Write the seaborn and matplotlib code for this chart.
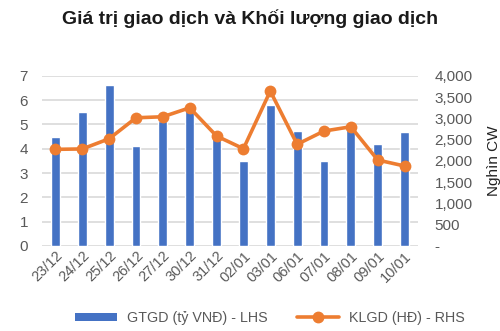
import matplotlib
matplotlib.use("Agg")
import matplotlib.pyplot as plt
import seaborn as sns
import numpy as np
from matplotlib.lines import Line2D
from matplotlib.patches import Patch
from matplotlib.ticker import FuncFormatter

dates = ["23/12", "24/12", "25/12", "26/12", "27/12", "30/12", "31/12",
         "02/01", "03/01", "06/01", "07/01", "08/01", "09/01", "10/01"]
gtgd = [4.50, 5.53, 6.63, 4.13, 5.14, 5.65, 4.43, 3.51, 5.80, 4.74, 3.50, 4.75, 4.20, 4.70]
klgd = [2271, 2280, 2520, 3013, 3037, 3248, 2584, 2286, 3641, 2389, 2701, 2802, 2020, 1879]

title = "Giá trị giao dịch và Khối lượng giao dịch"
bar_label = "GTGD (tỷ VNĐ) - LHS"
line_label = "KLGD (HĐ) - RHS"
right_ylabel = "Nghìn CW"

BLUE = "#4472C4"
ORANGE = "#ED7D31"
GRAY = "#595959"

sns.set_style("white")
plt.rcParams["font.family"] = ["Liberation Sans", "DejaVu Sans"]

fig = plt.figure(figsize=(5.0, 3.31), dpi=100)
ax = fig.add_axes([0.084, 0.257, 0.752, 0.514])

sns.barplot(x=dates, y=gtgd, color=BLUE, width=0.33, saturation=1, ax=ax, zorder=2)
ax.set_ylim(0, 7)
ax.set_yticks(range(0, 8))
ax.yaxis.grid(True, color="#D9D9D9", linewidth=1.2, zorder=0)
ax.set_axisbelow(True)
for s in ax.spines.values():
    s.set_visible(False)
ax.tick_params(axis="y", length=0, labelsize=11, labelcolor=GRAY, pad=10)
ax.tick_params(axis="x", length=0, labelsize=10.5, labelcolor=GRAY, pad=2)
for lbl in ax.get_xticklabels():
    lbl.set_rotation(45)
    lbl.set_ha("right")
    lbl.set_rotation_mode("anchor")
ax.set_xlim(-0.5, len(dates) - 0.5)

ax2 = ax.twinx()
sns.lineplot(x=np.arange(len(dates)), y=klgd, ax=ax2, color=ORANGE,
             linewidth=2.6, marker="o", markersize=8.5, markeredgewidth=0)
ax2.set_ylim(0, 4000)
ax2.set_yticks(range(0, 4001, 500))
ax2.yaxis.set_major_formatter(FuncFormatter(lambda v, p: "-" if v == 0 else f"{int(v):,}"))
ax2.tick_params(axis="y", length=0, labelsize=11, labelcolor=GRAY, pad=12)
for s in ax2.spines.values():
    s.set_visible(False)
ax2.set_ylabel(right_ylabel, fontsize=11, color="#222222", labelpad=10)

fig.text(0.5, 0.945, title, ha="center", va="center", fontsize=14,
         fontweight="bold", color="#1a1a1a")

handles = [
    Patch(facecolor=BLUE, edgecolor="none", label=bar_label),
    Line2D([0], [0], color=ORANGE, linewidth=2.6, marker="o", markersize=7.5, label=line_label),
]
fig.legend(handles=handles, loc="center", bbox_to_anchor=(0.54, 0.04), ncol=2,
           frameon=False, fontsize=10.3, handlelength=2.9, handleheight=0.45,
           handletextpad=0.7, columnspacing=2.1, labelcolor=GRAY)

fig.savefig("out.png", dpi=100)
